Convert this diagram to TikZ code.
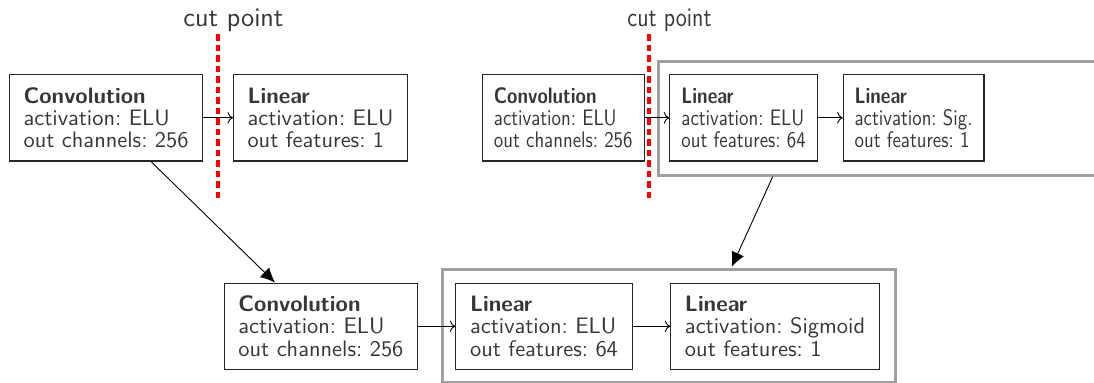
\documentclass[tikz,border=0pt]{standalone}
\usepackage{graphicx}
\usetikzlibrary{arrows.meta,calc}
\definecolor{txt}{RGB}{55,55,55}
\definecolor{frameg}{RGB}{160,160,160}
\definecolor{cutred}{RGB}{255,0,0}
% horizontally condensed text for the second (narrower) network drawing
\newcommand{\nrw}[1]{\scalebox{0.84}[1]{#1}}

\begin{document}
\begin{tikzpicture}[x=0.4464pt, y=-0.4464pt,
  layer/.style={draw=black!85, line width=0.5pt, rectangle, anchor=north west,
    minimum height=38.6pt, inner xsep=0pt, inner ysep=0pt, align=left,
    text=txt, font=\sffamily\fontsize{10}{9.9}\selectfont\frenchspacing},
  flow/.style={->, black, line width=0.4pt},
  jump/.style={-{Latex[length=6.5pt,width=6pt]}, black, line width=0.4pt},
  group/.style={draw=frameg, line width=1.3pt, rectangle, anchor=north west, inner sep=0pt},
  cut/.style={draw=cutred, line width=1.8pt, dash pattern=on 2.9pt off 1.8pt},
  cutlabel/.style={anchor=base west, inner sep=0pt, text=txt, font=\sffamily\large}]

\clip (0,0) rectangle (1094,382);

% cut markers
\draw[cut] (218,34) -- (218,200);
\draw[cut] (649.3,34) -- (649.3,200);
\node[cutlabel] (cutA) at (183,26) {cut point};
\node[cutlabel] (cutB) at (627,26) {\nrw{cut point}};

% network cut after the convolution
\node[layer, minimum width=86.2pt] (convA) at (9,74)
  {\textbf{Convolution}\\activation: ELU\\out channels: 256};
\node[layer, minimum width=77.7pt] (linA) at (233,74)
  {\textbf{Linear}\\activation: ELU\\out features: 1};

% network with an extra linear head
\node[layer, minimum width=72.3pt] (convB) at (481.7,74)
  {\nrw{\textbf{Convolution}}\\\nrw{activation: ELU}\\\nrw{out channels: 256}};
\node[layer, minimum width=65.8pt] (linB1) at (669.3,74)
  {\nrw{\textbf{Linear}}\\\nrw{activation: ELU}\\\nrw{out features: 64}};
\node[layer, minimum width=62.8pt] (linB2) at (842.7,74)
  {\nrw{\textbf{Linear}}\\\nrw{activation: Sig.}\\\nrw{out features: 1}};
\node[group, minimum width=202pt, minimum height=50.8pt] (headB) at (656.7,60) {};

% merged network
\node[layer, minimum width=86.3pt] (convC) at (223.7,282.5)
  {\textbf{Convolution}\\activation: ELU\\out channels: 256};
\node[layer, minimum width=78.7pt] (linC1) at (455.3,282.5)
  {\textbf{Linear}\\activation: ELU\\out features: 64};
\node[layer, minimum width=93pt] (linC2) at (670.3,282.5)
  {\textbf{Linear}\\activation: Sigmoid\\out features: 1};
\node[group, minimum width=202.2pt, minimum height=50.1pt] (headC) at (440.7,268.3) {};

% data flow
\draw[flow] (convA.east) -- (linA.west);
\draw[flow] (convB.east) -- (linB1.west);
\draw[flow] (linB1.east) -- (linB2.west);
\draw[flow] (convC.east) -- (linC1.west);
\draw[flow] (linC1.east) -- (linC2.west);

% provenance of the merged parts
\draw[jump] ($(convA.south west)+(142,0)$) -- ($(convC.north west)+(51.3,0)$);
\draw[jump] ($(headB.south west)+(116,0)$) -- ($(headC.north west)+(291,-1.5)$);
\end{tikzpicture}
\end{document}
